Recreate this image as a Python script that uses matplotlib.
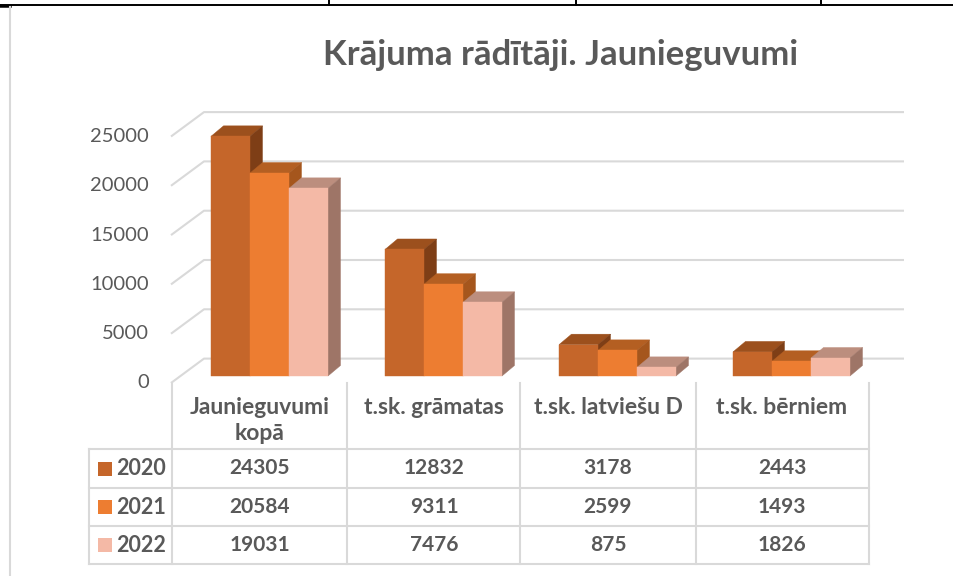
import matplotlib
matplotlib.use("Agg")
import matplotlib.pyplot as plt
from matplotlib.patches import Polygon, Rectangle
from matplotlib.lines import Line2D
import matplotlib.transforms as mtransforms

# ---------------- data ----------------
categories = ["Jaunieguvumi\nkopā", "t.sk. grāmatas", "t.sk. latviešu D", "t.sk. bērniem"]
years = ["2020", "2021", "2022"]
values_2020 = [24305, 12832, 3178, 2443]
values_2021 = [20584, 9311, 2599, 1493]
values_2022 = [19031, 7476, 875, 1826]
yticks = [0, 5000, 10000, 15000, 20000, 25000]
title = "Krājuma rādītāji. Jaunieguvumi"

series = [values_2020, values_2021, values_2022]
front_cols = ["#C5662A", "#ED7D31", "#F4B9A6"]
top_cols = ["#9C501D", "#B45F22", "#BC8E7E"]
side_cols = ["#7E3E16", "#A5561D", "#9E7567"]

TXT = "#595959"
GRID = "#D9D9D9"
FONT = ["Lato", "DejaVu Sans"]

W, H = 954, 576
fig = plt.figure(figsize=(W / 100, H / 100), dpi=100)
fig.patch.set_facecolor("white")

def fx(px):
    return px / W

def fy(py):
    return 1 - py / H

SC = 0.00986          # px per unit
YMAX = 28000
ax_bottom_px = 376
ax_h_px = YMAX * SC
ax = fig.add_axes([fx(173), fy(ax_bottom_px), 696 / W, ax_h_px / H])
ax.set_xlim(-0.5, 3.5)
ax.set_ylim(0, YMAX)
ax.axis("off")

col_px = 174.0
def dxu(px):
    return px / col_px

def dyu(px):
    return px / SC

# ---------- back wall gridlines ----------
back_dy = dyu(17.4)
front_dy = dyu(-7)
x_front = -0.5 + dxu(-2)
x_back = -0.5 + dxu(31)
x_right = -0.5 + dxu(731)
x_label = -0.5 + dxu(-24)
for v in yticks:
    ax.add_line(Line2D([x_front, x_back, x_right],
                       [v + front_dy, v + back_dy, v + back_dy],
                       color=GRID, lw=1.5, clip_on=False, zorder=1,
                       solid_capstyle="butt"))
    ax.text(x_label, v + front_dy, f"{v}", ha="right", va="center",
            fontsize=14.5, color=TXT, family=FONT, clip_on=False)

# ---------- 3D bars ----------
bw = dxu(39)
ddx = dxu(12.5)
ddy = dyu(10.5)
start = dxu(38)
for i in range(len(categories)):
    for j, vals in enumerate(series):
        v = vals[i]
        x0 = i - 0.5 + start + j * bw
        top = Polygon([(x0, v), (x0 + bw, v), (x0 + bw + ddx, v + ddy), (x0 + ddx, v + ddy)],
                      closed=True, fc=top_cols[j], ec=top_cols[j], lw=0.3,
                      clip_on=False, zorder=2)
        side = Polygon([(x0 + bw, 0), (x0 + bw + ddx, ddy), (x0 + bw + ddx, v + ddy), (x0 + bw, v)],
                       closed=True, fc=side_cols[j], ec=side_cols[j], lw=0.3,
                       clip_on=False, zorder=2)
        front = Rectangle((x0, 0), bw, v, fc=front_cols[j], ec=front_cols[j], lw=0.3,
                          clip_on=False, zorder=2)
        ax.add_patch(top)
        ax.add_patch(side)
        ax.add_patch(front)

# ---------- title ----------
fig.text(fx(561), fy(65), title, ha="center", va="baseline", fontsize=25,
         fontweight="bold", color=TXT, family=FONT)

# ---------- data table ----------
blend = mtransforms.blended_transform_factory(ax.transData, fig.transFigure)
row_lines = [449, 488, 526, 564]
row_centers = [468.5, 507, 545]
tbl_left, tbl_right = 89, 869
col_edges_px = [172, 347, 520, 696, 869]

def hline(y, x1, x2):
    fig.add_artist(Line2D([fx(x1), fx(x2)], [fy(y), fy(y)], color=GRID, lw=1.5))

def vline(x, y1, y2):
    fig.add_artist(Line2D([fx(x), fx(x)], [fy(y1), fy(y2)], color=GRID, lw=1.5))

for y in row_lines:
    hline(y, tbl_left, tbl_right)
vline(tbl_left, row_lines[0], row_lines[-1])
for xe in col_edges_px:
    vline(xe, 383, row_lines[-1])

for i, cat in enumerate(categories):
    for k, ln in enumerate(cat.split("\n")):
        ax.text(i, fy(408 + 26 * k), ln, transform=blend, ha="center", va="center",
                fontsize=16.5, fontweight="bold", color=TXT, family=FONT)
    for r, vals in enumerate(series):
        ax.text(i, fy(row_centers[r]), f"{vals[i]}", transform=blend, ha="center",
                va="center", fontsize=15, fontweight="bold", color=TXT, family=FONT)

for r, yr in enumerate(years):
    fig.add_artist(Rectangle((fx(98), fy(row_centers[r] + 7)), 14 / W, 14 / H,
                             transform=fig.transFigure, fc=front_cols[r], ec="none"))
    fig.text(fx(116), fy(row_centers[r]), yr, ha="left", va="center", fontsize=15.5,
             fontweight="bold", color=TXT, family=FONT)

# ---------- surrounding document frame ----------
fig.add_artist(Line2D([0, 1], [fy(5), fy(5)], color="black", lw=1.4))
fig.add_artist(Line2D([0, fx(10)], [fy(6), fy(6)], color="black", lw=1.8))
for xv in [329, 576, 821]:
    fig.add_artist(Line2D([fx(xv), fx(xv)], [fy(0), fy(5)], color="black", lw=1.4))
fig.add_artist(Line2D([fx(10), fx(10)], [fy(7), fy(576)], color="#D9D9D9", lw=1.5))

fig.savefig("out.png", dpi=100, facecolor="white")
